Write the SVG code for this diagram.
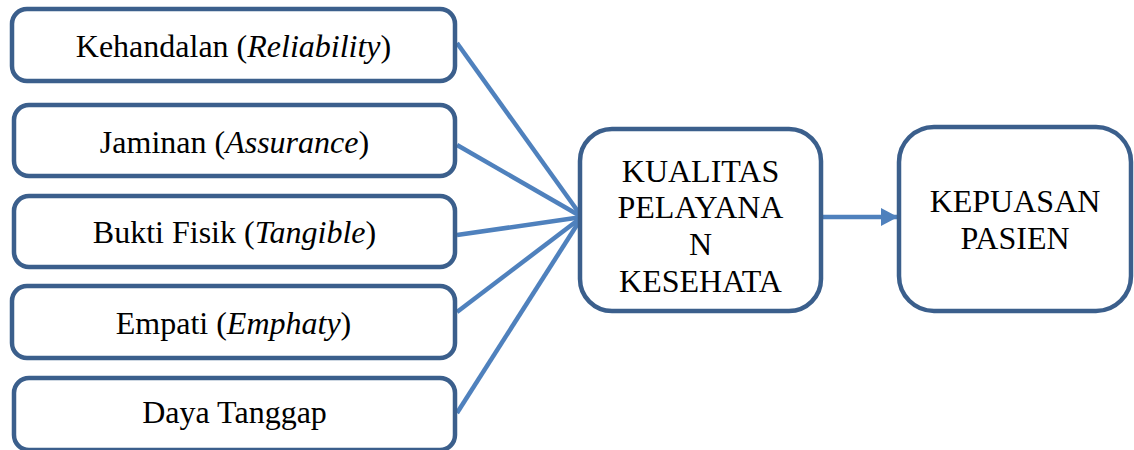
<svg xmlns="http://www.w3.org/2000/svg" width="1134" height="450" viewBox="0 0 1134 450">
<defs>
<style>
.box{fill:#fff;stroke:#3B5F8C;stroke-width:4.5}
.t{font-family:'Liberation Serif','Times New Roman',serif;font-size:32px;fill:#000;text-anchor:middle}
.c{stroke:#4F81BD;stroke-width:4.5;fill:none}
</style>
<marker id="ah" markerUnits="userSpaceOnUse" markerWidth="18" markerHeight="20" refX="16" refY="10" orient="auto">
<path d="M0,1 L17,10 L0,19 Z" fill="#4F81BD"/>
</marker>
</defs>
<rect width="1134" height="450" fill="#fff"/>
<g id="connectors">
<line class="c" x1="457" y1="43" x2="582" y2="217"/>
<line class="c" x1="457" y1="145" x2="582" y2="217"/>
<line class="c" x1="457" y1="235" x2="582" y2="217"/>
<line class="c" x1="457" y1="312" x2="582" y2="217"/>
<line class="c" x1="457" y1="413" x2="582" y2="217"/>
<line class="c" x1="823" y1="217" x2="897" y2="217" marker-end="url(#ah)"/>
</g>
<g id="n1"><rect class="box" x="12" y="9" width="443" height="72" rx="15"/><text class="t" x="233.5" y="56.7">Kehandalan (<tspan font-style="italic">Reliability</tspan>)</text></g>
<g id="n2"><rect class="box" x="14" y="105" width="441" height="71" rx="15"/><text class="t" x="234.5" y="152.7">Jaminan (<tspan font-style="italic">Assurance</tspan>)</text></g>
<g id="n3"><rect class="box" x="14" y="196" width="441" height="71" rx="15"/><text class="t" x="234.5" y="242.7">Bukti Fisik (<tspan font-style="italic">Tangible</tspan>)</text></g>
<g id="n4"><rect class="box" x="12" y="286" width="443" height="72" rx="15"/><text class="t" x="233.5" y="334">Empati (<tspan font-style="italic">Emphaty</tspan>)</text></g>
<g id="n5"><rect class="box" x="14" y="378" width="441" height="72" rx="15"/><text class="t" x="234.5" y="423">Daya Tanggap</text></g>
<g id="n6"><rect class="box" x="580" y="129" width="241" height="182" rx="32"/>
<text class="t" x="700.5" y="181.7">KUALITAS</text>
<text class="t" x="700.5" y="218.4">PELAYANA</text>
<text class="t" x="700.5" y="255">N</text>
<text class="t" x="700.5" y="291.7">KESEHATA</text></g>
<g id="n7"><rect class="box" x="899" y="127" width="232" height="184" rx="35"/>
<text class="t" x="1015" y="211.7">KEPUASAN</text>
<text class="t" x="1015" y="249.3">PASIEN</text></g>
</svg>
